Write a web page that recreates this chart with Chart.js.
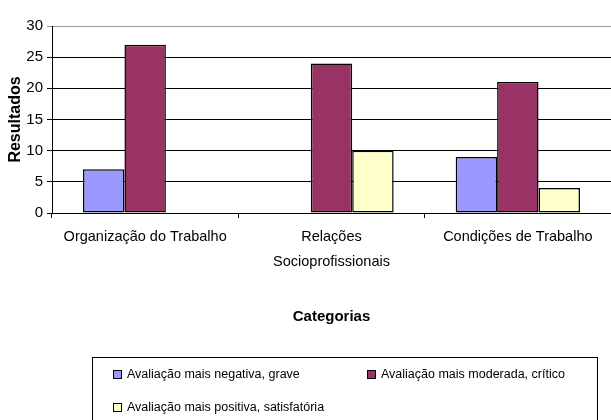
<!DOCTYPE html>
<html>
<head>
<meta charset="utf-8">
<script src="https://cdn.jsdelivr.net/npm/chart.js@4"></script>
<style>
    body { margin: 0; background: #fff; overflow: hidden; }
    #wrap { position: relative; width: 611px; height: 420px; }
    #legend {
        position: absolute; left: 92px; top: 357px; width: 506px; height: 80px;
        border: 1px solid #000; box-sizing: border-box;
        font-family: "Liberation Sans", Arial, sans-serif; font-size: 12.5px; color: #000;
    }
    .item { position: absolute; display: flex; align-items: center; white-space: nowrap; }
    .box { width: 7px; height: 7px; border: 1px solid #000; margin-right: 5px; }
</style>
</head>
<body>
<div id="wrap">
    <canvas id="myChart" width="611" height="420"></canvas>
    <div id="legend"></div>
</div>
<script>
const categories = ['Organização do Trabalho', ['Relações', 'Socioprofissionais'], 'Condições de Trabalho'];
const seriesNames = ['Avaliação mais negativa, grave', 'Avaliação mais moderada, crítico', 'Avaliação mais positiva, satisfatória'];
const negativaGrave = [7, 0, 9];
const moderadaCritico = [27, 24, 21];
const positivaSatisfatoria = [0, 10, 4];
const colors = ['#9999FF', '#993366', '#FFFFCC'];

const font = '"Liberation Sans", Arial, sans-serif';
const ctx = document.getElementById('myChart').getContext('2d');

const chart = new Chart(ctx, {
    type: 'bar',
    data: {
        labels: categories,
        datasets: [negativaGrave, moderadaCritico, positivaSatisfatoria].map(function(values, i) {
            return {
                label: seriesNames[i],
                data: values,
                backgroundColor: colors[i],
                borderColor: '#000',
                borderWidth: 1.5,
                borderSkipped: false,
                categoryPercentage: 0.667,
                barPercentage: 1.0
            };
        })
    },
    options: {
        responsive: false,
        animation: false,
        layout: { padding: { top: 26, right: 0, bottom: 80, left: 0 } },
        plugins: {
            legend: { display: false },
            tooltip: { enabled: false }
        },
        scales: {
            x: {
                afterFit: function(scale) { scale.height = 127; },
                grid: { drawOnChartArea: false, drawTicks: true, tickLength: 5, color: '#000' },
                border: { color: '#000' },
                ticks: { color: '#000', padding: 7, maxRotation: 0, font: { family: font, size: 14.5, lineHeight: 1.72 } },
                title: {
                    display: true, text: 'Categorias', color: '#000',
                    font: { family: font, size: 15, weight: 'bold' },
                    padding: { top: 0, bottom: 14 }
                }
            },
            y: {
                min: 0,
                max: 30,
                afterFit: function(scale) { scale.width = 52; },
                grid: {
                    tickLength: 5,
                    color: function(c) { return c.tick && c.tick.value === 30 ? '#999' : '#000'; }
                },
                border: { color: '#000' },
                ticks: { stepSize: 5, color: '#000', padding: 4, font: { family: font, size: 15 } },
                title: {
                    display: true, text: 'Resultados', color: '#000',
                    font: { family: font, size: 16, weight: 'bold' },
                    padding: { top: 6, bottom: 0 }
                }
            }
        }
    }
});

// legend built from the datasets, laid out in two columns
const legend = document.getElementById('legend');
chart.data.datasets.forEach(function(ds, i) {
    const item = document.createElement('div');
    item.className = 'item';
    item.style.left = (i % 2 === 0 ? 20 : 274) + 'px';
    item.style.top = (i < 2 ? 9 : 42) + 'px';
    item.innerHTML = '<span class="box" style="background:' + ds.backgroundColor + '"></span>' + ds.label;
    legend.appendChild(item);
});
</script>
</body>
</html>
